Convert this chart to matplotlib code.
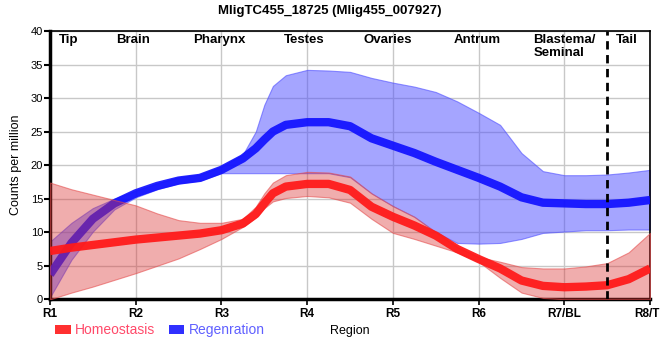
import matplotlib
matplotlib.use('Agg')
import matplotlib.pyplot as plt
from matplotlib.patches import Patch

plt.rcParams['font.family'] = ['Liberation Sans', 'DejaVu Sans']

# positions along the body, R1 .. R8
pos = [0, 0.25, 0.5, 0.75, 1, 1.25, 1.5, 1.75, 2, 2.25, 2.4, 2.5, 2.6, 2.75, 3, 3.25, 3.5,
       3.75, 4, 4.25, 4.5, 4.75, 5, 5.25, 5.5, 5.75, 6, 6.25, 6.5, 6.75, 7]
region_ticks = ['R1', 'R2', 'R3', 'R4', 'R5', 'R6', 'R7/BL', 'R8/TL']
tissue_names = ['Tip', 'Brain', 'Pharynx', 'Testes', 'Ovaries', 'Antrum', 'Tail']
tissue_pos = [0.22, 0.97, 1.98, 2.96, 3.94, 4.98, 6.73]

homeo_mean = [7.2, 7.7, 8.1, 8.5, 8.9, 9.2, 9.5, 9.8, 10.3, 11.3, 12.7, 14.3, 15.8, 16.8, 17.2,
              17.2, 16.3, 13.8, 12.3, 11.0, 9.5, 7.5, 6.0, 4.6, 2.8, 2.0, 1.8, 1.9, 2.1, 3.0, 4.6]
homeo_hi = [17.4, 16.4, 15.6, 14.8, 14.0, 12.8, 11.8, 11.4, 11.4, 12.0, 13.8, 15.8, 17.4, 18.5,
            19.0, 18.9, 18.3, 15.8, 13.9, 12.3, 10.0, 7.8, 6.3, 5.6, 4.8, 4.6, 4.6, 4.9, 5.4,
            7.0, 9.9]
homeo_lo = [0, 1.0, 1.9, 2.9, 3.9, 5.0, 6.1, 7.5, 9.0, 10.8, 12.2, 13.6, 14.6, 15.1, 15.4, 15.2,
            14.4, 12.0, 9.9, 9.0, 8.0, 7.0, 5.6, 3.2, 1.0, 0.2, 0, 0, 0, 0, 0]

regen_mean = [3.7, 8.4, 12.0, 14.3, 15.8, 16.9, 17.7, 18.1, 19.3, 21.0, 22.5, 23.8, 25.0, 26.0,
              26.4, 26.4, 25.8, 24.0, 22.9, 21.8, 20.5, 19.3, 18.1, 16.8, 15.2, 14.4, 14.3,
              14.2, 14.2, 14.4, 14.8]
regen_hi = [8.6, 11.4, 13.6, 15.0, 16.2, 17.3, 18.2, 18.6, 19.8, 21.6, 25.0, 29.0, 31.8, 33.4,
            34.2, 34.1, 33.9, 33.0, 32.3, 31.7, 30.9, 29.5, 27.8, 26.0, 21.8, 19.1, 18.5, 18.5,
            18.6, 18.9, 19.3]
regen_lo = [0.3, 5.9, 10.1, 13.4, 15.2, 16.4, 17.3, 17.7, 18.8, 18.8, 18.8, 18.8, 18.8, 18.8,
            18.8, 18.8, 18.2, 15.8, 13.9, 12.3, 10.0, 8.4, 8.3, 8.4, 9.0, 9.9, 10.1, 10.3,
            10.3, 10.4, 10.4]

fig = plt.figure(figsize=(6.6, 3.6), dpi=100)
ax = fig.add_axes([0.0758, 0.1686, 0.9092, 0.7454])

ax.grid(True, color='#c8c8c8', linewidth=1.0, zorder=0)

# regeneration drawn first, homeostasis on top
ax.fill_between(pos, regen_lo, regen_hi, facecolor=(0.3, 0.3, 1.0, 0.5),
                edgecolor=(0.3, 0.3, 1.0, 0.6), linewidth=0.8, zorder=2)
ax.plot(pos, regen_mean, color='#1010ff', alpha=0.92, linewidth=6.0,
        solid_capstyle='butt', solid_joinstyle='round', zorder=3)
ax.fill_between(pos, homeo_lo, homeo_hi, facecolor=(0.86, 0.2, 0.2, 0.4),
                edgecolor=(0.9, 0.3, 0.3, 0.6), linewidth=0.8, zorder=4)
ax.plot(pos, homeo_mean, color='#ff1a1a', alpha=0.95, linewidth=6.0,
        solid_capstyle='butt', solid_joinstyle='round', zorder=5)

ax.axvline(6.5, color='black', linestyle=(0, (3, 2)), linewidth=2.0, zorder=6)

for name, x in zip(tissue_names, tissue_pos):
    ax.text(x, 38.6, name, ha='center', va='center', fontsize=9.5,
            fontweight='bold', zorder=7)
ax.text(5.64, 39.6, 'Blastema/\nSeminal', ha='left', va='top', fontsize=9.5,
        fontweight='bold', linespacing=1.1, zorder=7)

ax.set_xlim(0, 7)
ax.set_ylim(0, 40)
ax.set_xticks(range(8))
ax.set_xticklabels(region_ticks, fontsize=8.5, fontweight='bold')
ax.set_yticks(range(0, 41, 5))
ax.tick_params(axis='y', labelsize=8, length=4, width=1.5, pad=1)
ax.tick_params(axis='x', length=4, width=1.2, pad=2)

ax.spines['left'].set_linewidth(2.5)
ax.spines['bottom'].set_linewidth(2.5)
ax.spines['top'].set_linewidth(1.2)
ax.spines['right'].set_linewidth(1.2)

ax.set_ylabel('Counts per million', fontsize=9, labelpad=6)
ax.set_xlabel('Region', fontsize=9, labelpad=4)

handles = [Patch(facecolor='#ff3030', edgecolor='none'),
           Patch(facecolor='#3030ff', edgecolor='none')]
fig.legend(handles, ['Homeostasis', 'Regenration'], loc='center left',
           bbox_to_anchor=(0.065, 0.083), ncol=2, frameon=False, fontsize=10,
           handlelength=1.1, handleheight=0.6, handletextpad=0.3,
           columnspacing=1.0, labelcolor=['#ff4a6a', '#6060ff'])

fig.suptitle('MligTC455_18725 (Mlig455_007927)', fontsize=9.5,
             fontweight='bold', y=0.985)

fig.savefig('out.png', dpi=100)
